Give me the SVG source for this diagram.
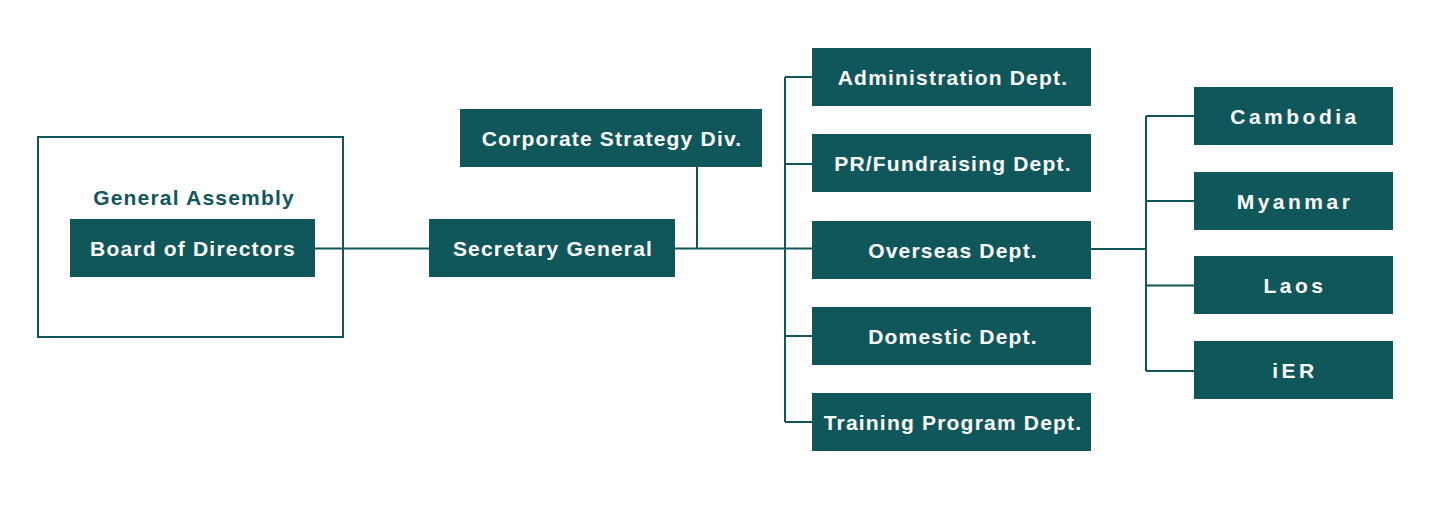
<svg xmlns="http://www.w3.org/2000/svg" width="1432" height="515" viewBox="0 0 1432 515">
<style>
.box{fill:#10575b}
.t{font-family:"Liberation Sans",Arial,sans-serif;font-weight:bold;font-size:21px;fill:#ffffff;text-anchor:middle;letter-spacing:1.2px}
.c{letter-spacing:3.5px}
.ga{fill:#10575b}
.ln{stroke:#10575b;stroke-width:2;fill:none}
</style>
<rect width="1432" height="515" fill="#ffffff"/>
<g id="connectors">
<path class="ln" d="M315 248.5H812"/>
<path class="ln" d="M697 166V248.5"/>
<path class="ln" d="M785 77V422M785 77H812M785 164H812M785 336H812M785 422H812"/>
<path class="ln" d="M1091 249H1146M1146 116V371M1146 116H1194M1146 201H1194M1146 285.5H1194M1146 371H1194"/>
</g>
<g id="general-assembly">
<rect x="38" y="137" width="305" height="200" fill="none" stroke="#10575b" stroke-width="2"/>
<text class="t ga" x="194" y="205">General Assembly</text>
</g>
<g id="board">
<rect class="box" x="70" y="219" width="245" height="58"/>
<text class="t" x="193" y="256">Board of Directors</text>
</g>
<g id="secretary">
<rect class="box" x="429" y="219" width="246" height="58"/>
<text class="t" x="553" y="256">Secretary General</text>
</g>
<g id="corporate">
<rect class="box" x="460" y="109" width="302" height="58"/>
<text class="t" x="612" y="146">Corporate Strategy Div.</text>
</g>
<g id="admin">
<rect class="box" x="812" y="48" width="279" height="58"/>
<text class="t" x="953" y="85">Administration Dept.</text>
</g>
<g id="pr">
<rect class="box" x="812" y="134" width="279" height="58"/>
<text class="t" x="953" y="171">PR/Fundraising Dept.</text>
</g>
<g id="overseas">
<rect class="box" x="812" y="221" width="279" height="58"/>
<text class="t" x="953" y="258">Overseas Dept.</text>
</g>
<g id="domestic">
<rect class="box" x="812" y="307" width="279" height="58"/>
<text class="t" x="953" y="343.5">Domestic Dept.</text>
</g>
<g id="training">
<rect class="box" x="812" y="393" width="279" height="58"/>
<text class="t" x="953" y="429.5">Training Program Dept.</text>
</g>
<g id="cambodia">
<rect class="box" x="1194" y="87" width="199" height="58"/>
<text class="t c" x="1295" y="124">Cambodia</text>
</g>
<g id="myanmar">
<rect class="box" x="1194" y="172" width="199" height="58"/>
<text class="t c" x="1295" y="209">Myanmar</text>
</g>
<g id="laos">
<rect class="box" x="1194" y="256" width="199" height="58"/>
<text class="t c" x="1295" y="293">Laos</text>
</g>
<g id="ier">
<rect class="box" x="1194" y="341" width="199" height="58"/>
<text class="t c" x="1295" y="378">iER</text>
</g>
</svg>
